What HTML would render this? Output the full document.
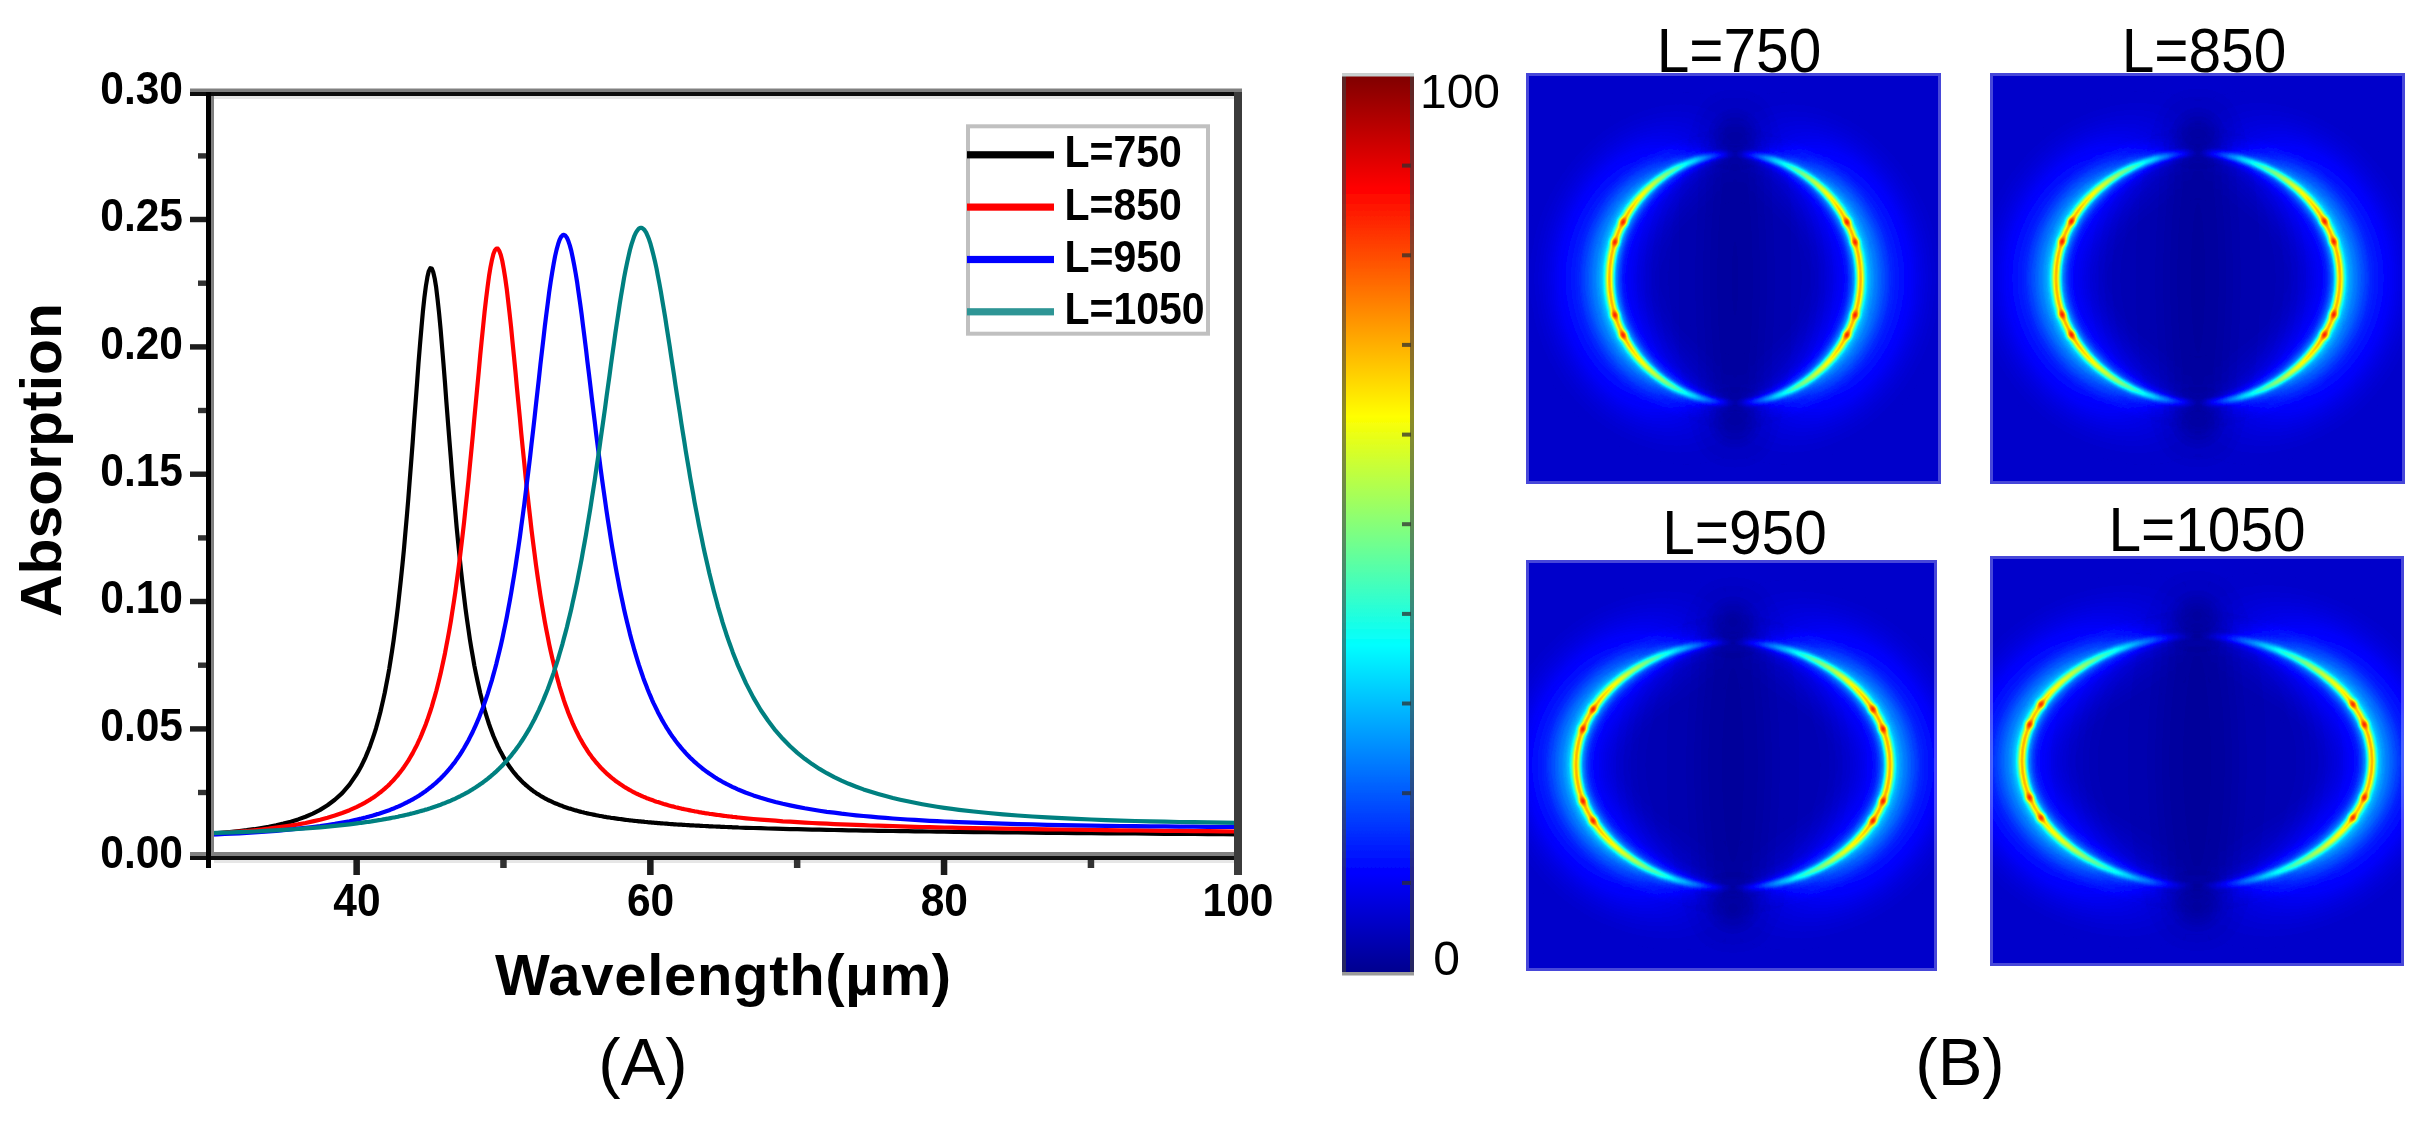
<!DOCTYPE html>
<html lang="en"><head><meta charset="utf-8"><title>Absorption spectra and field maps</title>
<style>html,body{margin:0;padding:0;background:#fff}body{width:2426px;height:1124px;overflow:hidden}svg{display:block}text{font-family:"Liberation Sans", Arial, Helvetica, sans-serif;fill:#000}.b{font-weight:bold}</style></head><body>
<svg width="2426" height="1124" viewBox="0 0 2426 1124">
<defs>
<filter id="jet" x="0" y="0" width="1" height="1" color-interpolation-filters="sRGB"><feComponentTransfer><feFuncR type="table" tableValues="0 0 0 0 0.5 1 1 1 0.5"/><feFuncG type="table" tableValues="0 0 0.5 1 1 1 0.5 0 0"/><feFuncB type="table" tableValues="0.5 1 1 1 0.5 0 0 0 0"/></feComponentTransfer></filter>
<filter id="b2" x="-50%" y="-50%" width="200%" height="200%" color-interpolation-filters="sRGB"><feGaussianBlur stdDeviation="2"/></filter>
<filter id="b4" x="-50%" y="-50%" width="200%" height="200%" color-interpolation-filters="sRGB"><feGaussianBlur stdDeviation="4"/></filter>
<filter id="b8" x="-50%" y="-50%" width="200%" height="200%" color-interpolation-filters="sRGB"><feGaussianBlur stdDeviation="8"/></filter>
<filter id="b14" x="-50%" y="-50%" width="200%" height="200%" color-interpolation-filters="sRGB"><feGaussianBlur stdDeviation="14"/></filter>
<filter id="b22" x="-50%" y="-50%" width="200%" height="200%" color-interpolation-filters="sRGB"><feGaussianBlur stdDeviation="22"/></filter>
<filter id="soft" x="-2%" y="-2%" width="104%" height="104%"><feGaussianBlur stdDeviation="0.7"/></filter>
<linearGradient id="cb" x1="0" y1="1" x2="0" y2="0"><stop offset="0" stop-color="#00008f"/><stop offset="0.11" stop-color="#0000ff"/><stop offset="0.365" stop-color="#00ffff"/><stop offset="0.62" stop-color="#ffff00"/><stop offset="0.875" stop-color="#ff0000"/><stop offset="1" stop-color="#800000"/></linearGradient>
</defs>
<g id="panelA" filter="url(#soft)">
<clipPath id="pc"><rect x="208" y="96" width="1030" height="760"/></clipPath>
<g clip-path="url(#pc)" fill="none" stroke-width="4.2" stroke-linejoin="round">
<path d="M210.0,833.7 L217.3,833.2 L224.7,832.5 L232.0,831.8 L239.4,831.0 L246.7,830.2 L254.1,829.2 L261.4,828.0 L268.7,826.8 L276.1,825.3 L283.4,823.6 L290.8,821.7 L298.1,819.4 L305.5,816.7 L312.8,813.6 L320.1,809.9 L327.5,805.3 L334.8,799.8 L342.2,793.1 L349.5,784.6 L356.9,773.8 L358.3,771.4 L359.8,768.7 L361.3,766.0 L362.7,763.1 L364.2,760.0 L365.7,756.8 L367.1,753.4 L368.6,749.8 L370.1,745.9 L371.5,741.9 L373.0,737.6 L374.5,733.1 L376.0,728.3 L377.4,723.2 L378.9,717.8 L380.4,712.0 L381.8,705.9 L383.3,699.4 L384.8,692.5 L386.2,685.1 L387.7,677.3 L389.2,669.0 L390.6,660.1 L392.1,650.6 L393.6,640.5 L395.0,629.7 L396.5,618.3 L398.0,606.1 L399.4,593.2 L400.9,579.5 L402.4,565.0 L403.9,549.7 L405.3,533.5 L406.8,516.6 L408.3,498.9 L409.7,480.5 L411.2,461.5 L412.7,442.0 L414.1,422.2 L415.6,402.3 L417.1,382.5 L418.5,363.2 L420.0,344.6 L421.5,327.3 L422.9,311.5 L424.4,297.6 L425.9,286.0 L427.4,277.1 L428.8,271.1 L430.3,268.2 L431.8,268.5 L433.2,272.0 L434.7,278.4 L436.2,287.7 L437.6,299.4 L439.1,313.4 L440.6,329.1 L442.0,346.2 L443.5,364.2 L445.0,383.0 L446.4,402.1 L447.9,421.3 L449.4,440.3 L450.9,458.9 L452.3,477.1 L453.8,494.6 L455.3,511.5 L456.7,527.7 L458.2,543.1 L459.7,557.7 L461.1,571.5 L462.6,584.6 L464.1,596.9 L465.5,608.6 L467.0,619.5 L468.5,629.8 L469.9,639.5 L471.4,648.6 L472.9,657.2 L474.3,665.3 L475.8,672.8 L477.3,680.0 L478.8,686.7 L480.2,693.0 L481.7,699.0 L483.2,704.6 L484.6,709.9 L486.1,714.8 L487.6,719.6 L489.0,724.0 L490.5,728.2 L492.0,732.2 L493.4,736.0 L494.9,739.5 L496.4,742.9 L497.8,746.1 L499.3,749.2 L500.8,752.1 L502.3,754.8 L503.7,757.4 L505.2,759.9 L506.7,762.3 L508.1,764.5 L509.6,766.7 L511.1,768.8 L512.5,770.7 L514.0,772.6 L515.5,774.4 L516.9,776.1 L518.4,777.7 L519.9,779.3 L521.3,780.8 L522.8,782.3 L524.3,783.6 L525.7,785.0 L527.2,786.2 L528.7,787.5 L530.2,788.6 L531.6,789.8 L533.1,790.9 L534.6,791.9 L536.0,792.9 L537.5,793.9 L539.0,794.8 L540.4,795.7 L541.9,796.6 L543.4,797.4 L544.8,798.3 L546.3,799.0 L547.8,799.8 L549.2,800.5 L550.7,801.2 L552.2,801.9 L553.7,802.6 L555.1,803.2 L556.6,803.8 L558.1,804.4 L559.5,805.0 L561.0,805.6 L562.5,806.1 L563.9,806.7 L565.4,807.2 L566.9,807.7 L568.3,808.2 L569.8,808.6 L571.3,809.1 L572.7,809.5 L574.2,810.0 L575.7,810.4 L577.2,810.8 L578.6,811.2 L580.1,811.6 L581.6,812.0 L583.0,812.3 L584.5,812.7 L586.0,813.0 L587.4,813.4 L588.9,813.7 L590.4,814.0 L591.8,814.3 L593.3,814.6 L594.8,814.9 L596.2,815.2 L597.7,815.5 L599.2,815.8 L600.6,816.0 L602.1,816.3 L603.6,816.6 L605.1,816.8 L606.5,817.1 L608.0,817.3 L609.5,817.5 L610.9,817.8 L612.4,818.0 L613.9,818.2 L615.3,818.4 L616.8,818.6 L618.3,818.8 L619.7,819.0 L621.2,819.2 L622.7,819.4 L624.1,819.6 L625.6,819.8 L627.1,820.0 L628.6,820.2 L630.0,820.3 L631.5,820.5 L633.0,820.7 L634.4,820.8 L635.9,821.0 L637.4,821.1 L638.8,821.3 L640.3,821.4 L641.8,821.6 L643.2,821.7 L644.7,821.9 L646.2,822.0 L647.6,822.2 L649.1,822.3 L650.6,822.4 L652.0,822.6 L653.5,822.7 L655.0,822.8 L656.5,822.9 L657.9,823.1 L659.4,823.2 L660.9,823.3 L662.3,823.4 L663.8,823.5 L665.3,823.6 L666.7,823.7 L668.2,823.8 L669.7,824.0 L671.1,824.1 L672.6,824.2 L674.1,824.3 L675.5,824.4 L677.0,824.5 L678.5,824.6 L680.0,824.6 L681.4,824.7 L682.9,824.8 L684.4,824.9 L685.8,825.0 L687.3,825.1 L688.8,825.2 L690.2,825.3 L691.7,825.4 L693.2,825.4 L694.6,825.5 L696.1,825.6 L697.6,825.7 L699.0,825.7 L700.5,825.8 L702.0,825.9 L703.4,826.0 L704.9,826.0 L706.4,826.1 L707.9,826.2 L709.3,826.3 L710.8,826.3 L712.3,826.4 L713.7,826.5 L715.2,826.5 L716.7,826.6 L718.1,826.7 L719.6,826.7 L721.1,826.8 L722.5,826.9 L724.0,826.9 L725.5,827.0 L726.9,827.0 L728.4,827.1 L729.9,827.2 L731.4,827.2 L732.8,827.3 L734.3,827.3 L735.8,827.4 L737.2,827.4 L738.7,827.5 L746.0,827.8 L753.4,828.0 L760.7,828.2 L768.1,828.5 L775.4,828.7 L782.8,828.9 L790.1,829.1 L797.4,829.2 L804.8,829.4 L812.1,829.6 L819.5,829.7 L826.8,829.9 L834.2,830.0 L841.5,830.2 L848.8,830.3 L856.2,830.4 L863.5,830.6 L870.9,830.7 L878.2,830.8 L885.6,830.9 L892.9,831.0 L900.2,831.1 L907.6,831.2 L914.9,831.3 L922.3,831.4 L929.6,831.5 L937.0,831.6 L944.3,831.7 L959.0,831.9 L973.7,832.1 L988.4,832.2 L1003.0,832.4 L1017.7,832.5 L1032.4,832.7 L1047.1,832.8 L1061.8,832.9 L1076.5,833.1 L1091.2,833.2 L1105.8,833.3 L1120.5,833.4 L1135.2,833.5 L1149.9,833.6 L1164.6,833.8 L1179.3,833.9 L1194.0,834.0 L1208.6,834.1 L1223.3,834.2 L1238.0,834.3" stroke="#000"/>
<path d="M210.0,833.7 L217.3,833.3 L224.7,832.8 L232.0,832.2 L239.4,831.6 L246.7,831.0 L254.1,830.3 L261.4,829.5 L268.7,828.7 L276.1,827.7 L283.4,826.7 L290.8,825.6 L298.1,824.4 L305.5,823.0 L312.8,821.4 L320.1,819.7 L327.5,817.7 L334.8,815.5 L342.2,813.0 L349.5,810.2 L356.9,806.9 L358.3,806.2 L359.8,805.4 L361.3,804.7 L362.7,803.9 L364.2,803.1 L365.7,802.2 L367.1,801.4 L368.6,800.5 L370.1,799.6 L371.5,798.6 L373.0,797.7 L374.5,796.7 L376.0,795.6 L377.4,794.6 L378.9,793.4 L380.4,792.3 L381.8,791.1 L383.3,789.9 L384.8,788.6 L386.2,787.3 L387.7,786.0 L389.2,784.6 L390.6,783.1 L392.1,781.6 L393.6,780.0 L395.0,778.4 L396.5,776.7 L398.0,775.0 L399.4,773.1 L400.9,771.2 L402.4,769.3 L403.9,767.2 L405.3,765.1 L406.8,762.9 L408.3,760.6 L409.7,758.2 L411.2,755.7 L412.7,753.1 L414.1,750.4 L415.6,747.6 L417.1,744.6 L418.5,741.5 L420.0,738.3 L421.5,734.9 L422.9,731.4 L424.4,727.7 L425.9,723.9 L427.4,719.8 L428.8,715.6 L430.3,711.2 L431.8,706.6 L433.2,701.7 L434.7,696.6 L436.2,691.3 L437.6,685.7 L439.1,679.8 L440.6,673.6 L442.0,667.1 L443.5,660.3 L445.0,653.2 L446.4,645.7 L447.9,637.8 L449.4,629.6 L450.9,620.9 L452.3,611.8 L453.8,602.2 L455.3,592.2 L456.7,581.8 L458.2,570.8 L459.7,559.3 L461.1,547.4 L462.6,534.9 L464.1,521.9 L465.5,508.4 L467.0,494.5 L468.5,480.1 L469.9,465.2 L471.4,450.0 L472.9,434.5 L474.3,418.8 L475.8,402.9 L477.3,387.0 L478.8,371.1 L480.2,355.5 L481.7,340.3 L483.2,325.6 L484.6,311.7 L486.1,298.7 L487.6,286.8 L489.0,276.2 L490.5,267.1 L492.0,259.7 L493.4,254.1 L494.9,250.3 L496.4,248.5 L497.8,248.7 L499.3,250.9 L500.8,255.0 L502.3,261.0 L503.7,268.7 L505.2,277.9 L506.7,288.6 L508.1,300.5 L509.6,313.5 L511.1,327.3 L512.5,341.8 L514.0,356.7 L515.5,372.0 L516.9,387.5 L518.4,403.0 L519.9,418.4 L521.3,433.7 L522.8,448.7 L524.3,463.4 L525.7,477.7 L527.2,491.6 L528.7,505.1 L530.2,518.0 L531.6,530.5 L533.1,542.5 L534.6,554.0 L536.0,565.1 L537.5,575.6 L539.0,585.7 L540.4,595.3 L541.9,604.5 L543.4,613.3 L544.8,621.6 L546.3,629.6 L547.8,637.2 L549.2,644.4 L550.7,651.3 L552.2,657.8 L553.7,664.1 L555.1,670.0 L556.6,675.7 L558.1,681.1 L559.5,686.3 L561.0,691.2 L562.5,695.9 L563.9,700.4 L565.4,704.7 L566.9,708.8 L568.3,712.7 L569.8,716.4 L571.3,720.0 L572.7,723.4 L574.2,726.7 L575.7,729.8 L577.2,732.8 L578.6,735.7 L580.1,738.5 L581.6,741.1 L583.0,743.7 L584.5,746.1 L586.0,748.4 L587.4,750.7 L588.9,752.9 L590.4,754.9 L591.8,756.9 L593.3,758.9 L594.8,760.7 L596.2,762.5 L597.7,764.2 L599.2,765.9 L600.6,767.5 L602.1,769.0 L603.6,770.5 L605.1,771.9 L606.5,773.3 L608.0,774.6 L609.5,775.9 L610.9,777.2 L612.4,778.4 L613.9,779.5 L615.3,780.7 L616.8,781.8 L618.3,782.8 L619.7,783.8 L621.2,784.8 L622.7,785.8 L624.1,786.7 L625.6,787.6 L627.1,788.5 L628.6,789.4 L630.0,790.2 L631.5,791.0 L633.0,791.8 L634.4,792.5 L635.9,793.3 L637.4,794.0 L638.8,794.7 L640.3,795.3 L641.8,796.0 L643.2,796.6 L644.7,797.2 L646.2,797.9 L647.6,798.4 L649.1,799.0 L650.6,799.6 L652.0,800.1 L653.5,800.6 L655.0,801.2 L656.5,801.7 L657.9,802.1 L659.4,802.6 L660.9,803.1 L662.3,803.5 L663.8,804.0 L665.3,804.4 L666.7,804.8 L668.2,805.3 L669.7,805.7 L671.1,806.1 L672.6,806.4 L674.1,806.8 L675.5,807.2 L677.0,807.5 L678.5,807.9 L680.0,808.2 L681.4,808.6 L682.9,808.9 L684.4,809.2 L685.8,809.5 L687.3,809.8 L688.8,810.1 L690.2,810.4 L691.7,810.7 L693.2,811.0 L694.6,811.3 L696.1,811.5 L697.6,811.8 L699.0,812.1 L700.5,812.3 L702.0,812.6 L703.4,812.8 L704.9,813.1 L706.4,813.3 L707.9,813.5 L709.3,813.8 L710.8,814.0 L712.3,814.2 L713.7,814.4 L715.2,814.6 L716.7,814.8 L718.1,815.0 L719.6,815.2 L721.1,815.4 L722.5,815.6 L724.0,815.8 L725.5,816.0 L726.9,816.2 L728.4,816.3 L729.9,816.5 L731.4,816.7 L732.8,816.9 L734.3,817.0 L735.8,817.2 L737.2,817.4 L738.7,817.5 L746.0,818.3 L753.4,819.0 L760.7,819.6 L768.1,820.2 L775.4,820.7 L782.8,821.3 L790.1,821.7 L797.4,822.2 L804.8,822.6 L812.1,823.0 L819.5,823.4 L826.8,823.7 L834.2,824.1 L841.5,824.4 L848.8,824.7 L856.2,824.9 L863.5,825.2 L870.9,825.5 L878.2,825.7 L885.6,825.9 L892.9,826.2 L900.2,826.4 L907.6,826.6 L914.9,826.8 L922.3,827.0 L929.6,827.1 L937.0,827.3 L944.3,827.5 L959.0,827.8 L973.7,828.1 L988.4,828.4 L1003.0,828.6 L1017.7,828.9 L1032.4,829.1 L1047.1,829.3 L1061.8,829.5 L1076.5,829.7 L1091.2,829.9 L1105.8,830.1 L1120.5,830.3 L1135.2,830.4 L1149.9,830.6 L1164.6,830.8 L1179.3,830.9 L1194.0,831.1 L1208.6,831.2 L1223.3,831.4 L1238.0,831.5" stroke="#ff0000"/>
<path d="M210.0,834.7 L217.3,834.4 L224.7,834.0 L232.0,833.7 L239.4,833.3 L246.7,832.9 L254.1,832.4 L261.4,831.9 L268.7,831.4 L276.1,830.8 L283.4,830.2 L290.8,829.5 L298.1,828.7 L305.5,827.9 L312.8,827.0 L320.1,826.1 L327.5,825.0 L334.8,823.9 L342.2,822.6 L349.5,821.2 L356.9,819.6 L358.3,819.2 L359.8,818.9 L361.3,818.6 L362.7,818.2 L364.2,817.8 L365.7,817.5 L367.1,817.1 L368.6,816.7 L370.1,816.3 L371.5,815.9 L373.0,815.5 L374.5,815.0 L376.0,814.6 L377.4,814.1 L378.9,813.7 L380.4,813.2 L381.8,812.7 L383.3,812.2 L384.8,811.7 L386.2,811.2 L387.7,810.7 L389.2,810.2 L390.6,809.6 L392.1,809.0 L393.6,808.5 L395.0,807.9 L396.5,807.2 L398.0,806.6 L399.4,806.0 L400.9,805.3 L402.4,804.6 L403.9,803.9 L405.3,803.2 L406.8,802.5 L408.3,801.7 L409.7,801.0 L411.2,800.2 L412.7,799.4 L414.1,798.5 L415.6,797.7 L417.1,796.8 L418.5,795.9 L420.0,794.9 L421.5,794.0 L422.9,793.0 L424.4,791.9 L425.9,790.9 L427.4,789.8 L428.8,788.7 L430.3,787.5 L431.8,786.4 L433.2,785.1 L434.7,783.9 L436.2,782.6 L437.6,781.3 L439.1,779.9 L440.6,778.5 L442.0,777.0 L443.5,775.5 L445.0,773.9 L446.4,772.3 L447.9,770.6 L449.4,768.9 L450.9,767.1 L452.3,765.3 L453.8,763.4 L455.3,761.4 L456.7,759.4 L458.2,757.3 L459.7,755.1 L461.1,752.8 L462.6,750.5 L464.1,748.0 L465.5,745.5 L467.0,742.9 L468.5,740.2 L469.9,737.4 L471.4,734.5 L472.9,731.5 L474.3,728.4 L475.8,725.1 L477.3,721.7 L478.8,718.2 L480.2,714.6 L481.7,710.8 L483.2,706.9 L484.6,702.8 L486.1,698.5 L487.6,694.1 L489.0,689.5 L490.5,684.7 L492.0,679.8 L493.4,674.6 L494.9,669.2 L496.4,663.6 L497.8,657.8 L499.3,651.7 L500.8,645.4 L502.3,638.8 L503.7,632.0 L505.2,624.9 L506.7,617.5 L508.1,609.8 L509.6,601.8 L511.1,593.5 L512.5,584.9 L514.0,576.0 L515.5,566.7 L516.9,557.1 L518.4,547.2 L519.9,536.9 L521.3,526.3 L522.8,515.3 L524.3,504.0 L525.7,492.5 L527.2,480.6 L528.7,468.4 L530.2,455.9 L531.6,443.2 L533.1,430.4 L534.6,417.3 L536.0,404.2 L537.5,391.0 L539.0,377.8 L540.4,364.6 L541.9,351.7 L543.4,338.9 L544.8,326.5 L546.3,314.4 L547.8,302.9 L549.2,291.9 L550.7,281.7 L552.2,272.3 L553.7,263.7 L555.1,256.1 L556.6,249.6 L558.1,244.2 L559.5,240.0 L561.0,237.0 L562.5,235.3 L563.9,234.8 L565.4,235.6 L566.9,237.7 L568.3,240.9 L569.8,245.4 L571.3,250.9 L572.7,257.5 L574.2,265.1 L575.7,273.5 L577.2,282.7 L578.6,292.7 L580.1,303.1 L581.6,314.1 L583.0,325.6 L584.5,337.3 L586.0,349.3 L587.4,361.4 L588.9,373.6 L590.4,385.9 L591.8,398.1 L593.3,410.3 L594.8,422.3 L596.2,434.2 L597.7,445.9 L599.2,457.4 L600.6,468.6 L602.1,479.6 L603.6,490.3 L605.1,500.7 L606.5,510.8 L608.0,520.6 L609.5,530.1 L610.9,539.3 L612.4,548.3 L613.9,556.9 L615.3,565.2 L616.8,573.3 L618.3,581.1 L619.7,588.6 L621.2,595.8 L622.7,602.8 L624.1,609.5 L625.6,616.0 L627.1,622.2 L628.6,628.3 L630.0,634.1 L631.5,639.7 L633.0,645.0 L634.4,650.2 L635.9,655.2 L637.4,660.1 L638.8,664.7 L640.3,669.2 L641.8,673.5 L643.2,677.7 L644.7,681.7 L646.2,685.6 L647.6,689.3 L649.1,693.0 L650.6,696.4 L652.0,699.8 L653.5,703.1 L655.0,706.2 L656.5,709.2 L657.9,712.2 L659.4,715.0 L660.9,717.8 L662.3,720.4 L663.8,723.0 L665.3,725.5 L666.7,727.9 L668.2,730.2 L669.7,732.5 L671.1,734.6 L672.6,736.8 L674.1,738.8 L675.5,740.8 L677.0,742.7 L678.5,744.6 L680.0,746.4 L681.4,748.2 L682.9,749.9 L684.4,751.5 L685.8,753.1 L687.3,754.7 L688.8,756.2 L690.2,757.7 L691.7,759.1 L693.2,760.5 L694.6,761.9 L696.1,763.2 L697.6,764.5 L699.0,765.7 L700.5,766.9 L702.0,768.1 L703.4,769.3 L704.9,770.4 L706.4,771.5 L707.9,772.5 L709.3,773.6 L710.8,774.6 L712.3,775.6 L713.7,776.5 L715.2,777.5 L716.7,778.4 L718.1,779.3 L719.6,780.1 L721.1,781.0 L722.5,781.8 L724.0,782.6 L725.5,783.4 L726.9,784.2 L728.4,784.9 L729.9,785.6 L731.4,786.4 L732.8,787.1 L734.3,787.7 L735.8,788.4 L737.2,789.1 L738.7,789.7 L746.0,792.7 L753.4,795.4 L760.7,797.8 L768.1,800.0 L775.4,802.0 L782.8,803.8 L790.1,805.4 L797.4,806.9 L804.8,808.3 L812.1,809.5 L819.5,810.7 L826.8,811.8 L834.2,812.7 L841.5,813.7 L848.8,814.5 L856.2,815.3 L863.5,816.0 L870.9,816.7 L878.2,817.3 L885.6,817.9 L892.9,818.5 L900.2,819.0 L907.6,819.5 L914.9,819.9 L922.3,820.4 L929.6,820.8 L937.0,821.1 L944.3,821.5 L959.0,822.1 L973.7,822.7 L988.4,823.2 L1003.0,823.7 L1017.7,824.1 L1032.4,824.4 L1047.1,824.8 L1061.8,825.1 L1076.5,825.3 L1091.2,825.6 L1105.8,825.8 L1120.5,826.0 L1135.2,826.1 L1149.9,826.3 L1164.6,826.4 L1179.3,826.6 L1194.0,826.7 L1208.6,826.8 L1223.3,826.8 L1238.0,826.9" stroke="#0000ff"/>
<path d="M210.0,833.2 L217.3,832.9 L224.7,832.7 L232.0,832.4 L239.4,832.1 L246.7,831.8 L254.1,831.5 L261.4,831.1 L268.7,830.7 L276.1,830.3 L283.4,829.9 L290.8,829.5 L298.1,829.0 L305.5,828.4 L312.8,827.9 L320.1,827.3 L327.5,826.6 L334.8,825.9 L342.2,825.1 L349.5,824.3 L356.9,823.4 L358.3,823.2 L359.8,823.0 L361.3,822.8 L362.7,822.6 L364.2,822.4 L365.7,822.2 L367.1,822.0 L368.6,821.8 L370.1,821.6 L371.5,821.4 L373.0,821.1 L374.5,820.9 L376.0,820.7 L377.4,820.4 L378.9,820.2 L380.4,820.0 L381.8,819.7 L383.3,819.4 L384.8,819.2 L386.2,818.9 L387.7,818.7 L389.2,818.4 L390.6,818.1 L392.1,817.8 L393.6,817.5 L395.0,817.3 L396.5,817.0 L398.0,816.7 L399.4,816.3 L400.9,816.0 L402.4,815.7 L403.9,815.4 L405.3,815.0 L406.8,814.7 L408.3,814.4 L409.7,814.0 L411.2,813.6 L412.7,813.3 L414.1,812.9 L415.6,812.5 L417.1,812.1 L418.5,811.7 L420.0,811.3 L421.5,810.9 L422.9,810.5 L424.4,810.1 L425.9,809.6 L427.4,809.2 L428.8,808.7 L430.3,808.3 L431.8,807.8 L433.2,807.3 L434.7,806.8 L436.2,806.3 L437.6,805.8 L439.1,805.2 L440.6,804.7 L442.0,804.1 L443.5,803.6 L445.0,803.0 L446.4,802.4 L447.9,801.8 L449.4,801.2 L450.9,800.6 L452.3,799.9 L453.8,799.3 L455.3,798.6 L456.7,797.9 L458.2,797.2 L459.7,796.5 L461.1,795.7 L462.6,795.0 L464.1,794.2 L465.5,793.4 L467.0,792.6 L468.5,791.8 L469.9,790.9 L471.4,790.0 L472.9,789.1 L474.3,788.2 L475.8,787.3 L477.3,786.3 L478.8,785.3 L480.2,784.3 L481.7,783.3 L483.2,782.2 L484.6,781.1 L486.1,780.0 L487.6,778.9 L489.0,777.7 L490.5,776.5 L492.0,775.2 L493.4,774.0 L494.9,772.6 L496.4,771.3 L497.8,769.9 L499.3,768.5 L500.8,767.0 L502.3,765.6 L503.7,764.0 L505.2,762.4 L506.7,760.8 L508.1,759.1 L509.6,757.4 L511.1,755.6 L512.5,753.8 L514.0,751.9 L515.5,750.0 L516.9,748.0 L518.4,746.0 L519.9,743.9 L521.3,741.7 L522.8,739.5 L524.3,737.2 L525.7,734.8 L527.2,732.4 L528.7,729.9 L530.2,727.3 L531.6,724.6 L533.1,721.8 L534.6,719.0 L536.0,716.0 L537.5,713.0 L539.0,709.9 L540.4,706.7 L541.9,703.4 L543.4,699.9 L544.8,696.4 L546.3,692.7 L547.8,689.0 L549.2,685.1 L550.7,681.0 L552.2,676.9 L553.7,672.6 L555.1,668.2 L556.6,663.6 L558.1,658.9 L559.5,654.0 L561.0,649.0 L562.5,643.8 L563.9,638.4 L565.4,632.9 L566.9,627.2 L568.3,621.3 L569.8,615.2 L571.3,608.9 L572.7,602.4 L574.2,595.7 L575.7,588.8 L577.2,581.7 L578.6,574.4 L580.1,566.9 L581.6,559.2 L583.0,551.2 L584.5,543.0 L586.0,534.6 L587.4,526.0 L588.9,517.2 L590.4,508.1 L591.8,498.9 L593.3,489.4 L594.8,479.7 L596.2,469.9 L597.7,459.9 L599.2,449.7 L600.6,439.4 L602.1,428.9 L603.6,418.4 L605.1,407.7 L606.5,397.0 L608.0,386.3 L609.5,375.6 L610.9,364.9 L612.4,354.3 L613.9,343.9 L615.3,333.6 L616.8,323.5 L618.3,313.6 L619.7,304.1 L621.2,294.9 L622.7,286.1 L624.1,277.7 L625.6,269.9 L627.1,262.6 L628.6,255.9 L630.0,249.8 L631.5,244.4 L633.0,239.8 L634.4,235.8 L635.9,232.6 L637.4,230.3 L638.8,228.7 L640.3,227.9 L641.8,227.9 L643.2,228.7 L644.7,230.3 L646.2,232.7 L647.6,235.8 L649.1,239.6 L650.6,244.2 L652.0,249.4 L653.5,255.2 L655.0,261.5 L656.5,268.4 L657.9,275.8 L659.4,283.6 L660.9,291.8 L662.3,300.3 L663.8,309.1 L665.3,318.2 L666.7,327.4 L668.2,336.8 L669.7,346.4 L671.1,356.0 L672.6,365.7 L674.1,375.5 L675.5,385.2 L677.0,394.9 L678.5,404.5 L680.0,414.0 L681.4,423.5 L682.9,432.9 L684.4,442.1 L685.8,451.2 L687.3,460.1 L688.8,468.9 L690.2,477.5 L691.7,485.9 L693.2,494.2 L694.6,502.3 L696.1,510.2 L697.6,517.9 L699.0,525.4 L700.5,532.7 L702.0,539.9 L703.4,546.9 L704.9,553.7 L706.4,560.3 L707.9,566.7 L709.3,573.0 L710.8,579.1 L712.3,585.0 L713.7,590.7 L715.2,596.3 L716.7,601.8 L718.1,607.1 L719.6,612.2 L721.1,617.2 L722.5,622.1 L724.0,626.8 L725.5,631.4 L726.9,635.8 L728.4,640.1 L729.9,644.3 L731.4,648.4 L732.8,652.4 L734.3,656.2 L735.8,660.0 L737.2,663.6 L738.7,667.2 L746.0,683.4 L753.4,697.6 L760.7,710.0 L768.1,720.8 L775.4,730.4 L782.8,738.8 L790.1,746.3 L797.4,752.9 L804.8,758.8 L812.1,764.1 L819.5,768.9 L826.8,773.2 L834.2,777.1 L841.5,780.6 L848.8,783.8 L856.2,786.7 L863.5,789.4 L870.9,791.8 L878.2,794.0 L885.6,796.1 L892.9,798.0 L900.2,799.7 L907.6,801.3 L914.9,802.8 L922.3,804.2 L929.6,805.5 L937.0,806.7 L944.3,807.8 L959.0,809.8 L973.7,811.5 L988.4,813.0 L1003.0,814.3 L1017.7,815.5 L1032.4,816.5 L1047.1,817.4 L1061.8,818.2 L1076.5,818.9 L1091.2,819.5 L1105.8,820.1 L1120.5,820.6 L1135.2,821.0 L1149.9,821.4 L1164.6,821.7 L1179.3,822.0 L1194.0,822.2 L1208.6,822.4 L1223.3,822.6 L1238.0,822.8" stroke="#008080"/>
</g>
<g>
<rect x="190" y="88.5" width="1052" height="3.5" fill="#808080"/><rect x="190" y="92" width="1052" height="4" fill="#0a0a0a"/><rect x="214" y="96" width="1020" height="3" fill="#e6e6e6"/>
<rect x="190" y="852" width="1048" height="4" fill="#808080"/><rect x="190" y="856" width="1048" height="4" fill="#0a0a0a"/><rect x="214" y="860" width="1020" height="3" fill="#e6e6e6"/>
<rect x="206" y="92" width="5" height="776" fill="#000"/><rect x="211" y="96" width="3" height="756" fill="#808080"/>
<rect x="1234" y="92" width="8" height="783" fill="#3a3a3a"/>
<rect x="198" y="153.2" width="8" height="5.4" fill="#333"/>
<text class="b" transform="translate(183,104.0) scale(1,1.07)" font-size="42.5" text-anchor="end">0.30</text>
<rect x="190" y="216.8" width="16" height="5.4" fill="#1a1a1a"/>
<rect x="198" y="280.5" width="8" height="5.4" fill="#333"/>
<text class="b" transform="translate(183,231.3) scale(1,1.07)" font-size="42.5" text-anchor="end">0.25</text>
<rect x="190" y="344.2" width="16" height="5.4" fill="#1a1a1a"/>
<rect x="198" y="407.8" width="8" height="5.4" fill="#333"/>
<text class="b" transform="translate(183,358.7) scale(1,1.07)" font-size="42.5" text-anchor="end">0.20</text>
<rect x="190" y="471.5" width="16" height="5.4" fill="#1a1a1a"/>
<rect x="198" y="535.2" width="8" height="5.4" fill="#333"/>
<text class="b" transform="translate(183,486.0) scale(1,1.07)" font-size="42.5" text-anchor="end">0.15</text>
<rect x="190" y="598.8" width="16" height="5.4" fill="#1a1a1a"/>
<rect x="198" y="662.5" width="8" height="5.4" fill="#333"/>
<text class="b" transform="translate(183,613.3) scale(1,1.07)" font-size="42.5" text-anchor="end">0.10</text>
<rect x="190" y="726.2" width="16" height="5.4" fill="#1a1a1a"/>
<rect x="198" y="789.8" width="8" height="5.4" fill="#333"/>
<text class="b" transform="translate(183,740.7) scale(1,1.07)" font-size="42.5" text-anchor="end">0.05</text>
<text class="b" transform="translate(183,868.0) scale(1,1.07)" font-size="42.5" text-anchor="end">0.00</text>
<rect x="353.4" y="860" width="6.5" height="15" fill="#1a1a1a"/>
<text class="b" transform="translate(356.9,915.5) scale(1,1.07)" font-size="42.5" text-anchor="middle">40</text>
<rect x="500.2" y="860" width="6.5" height="8" fill="#333"/>
<rect x="647.1" y="860" width="6.5" height="15" fill="#1a1a1a"/>
<text class="b" transform="translate(650.6,915.5) scale(1,1.07)" font-size="42.5" text-anchor="middle">60</text>
<rect x="793.9" y="860" width="6.5" height="8" fill="#333"/>
<rect x="940.8" y="860" width="6.5" height="15" fill="#1a1a1a"/>
<text class="b" transform="translate(944.3,915.5) scale(1,1.07)" font-size="42.5" text-anchor="middle">80</text>
<rect x="1087.7" y="860" width="6.5" height="8" fill="#333"/>
<text class="b" transform="translate(1238.0,915.5) scale(1,1.07)" font-size="42.5" text-anchor="middle">100</text>
</g>
<rect x="968" y="126.3" width="240" height="207.4" fill="#fff" stroke="#c0c0c0" stroke-width="4"/>
<rect x="967" y="151.2" width="87" height="7.2" fill="#000"/>
<text class="b" transform="translate(1064.5,167.4) scale(1,1.1)" font-size="41">L=750</text>
<rect x="967" y="203.5" width="87" height="7.2" fill="#ff0000"/>
<text class="b" transform="translate(1064.5,219.7) scale(1,1.1)" font-size="41">L=850</text>
<rect x="967" y="255.9" width="87" height="7.2" fill="#0000ff"/>
<text class="b" transform="translate(1064.5,272.1) scale(1,1.1)" font-size="41">L=950</text>
<rect x="967" y="308.2" width="87" height="7.2" fill="#2e9595"/>
<text class="b" transform="translate(1064.5,324.4) scale(1,1.1)" font-size="41">L=1050</text>
<text class="b" x="723" y="994.5" font-size="58" text-anchor="middle" textLength="456" lengthAdjust="spacing">Wavelength(µm)</text>
<text class="b" transform="translate(61,460) rotate(-90)" font-size="58" text-anchor="middle" textLength="314" lengthAdjust="spacingAndGlyphs">Absorption</text>
<text x="643" y="1084.5" font-size="67" text-anchor="middle">(A)</text>
</g>
<g id="panelB" filter="url(#soft)">
<rect x="1342" y="73.5" width="72" height="902" fill="#9a9a9a"/>
<rect x="1342" y="76" width="72" height="896" fill="url(#cb)"/>
<rect x="1342" y="76" width="4" height="896" fill="#404040" fill-opacity="0.6"/><rect x="1410" y="76" width="4" height="896" fill="#404040" fill-opacity="0.6"/>
<rect x="1342" y="73.5" width="72" height="3" fill="#c8d0d0"/>
<rect x="1402" y="880.9" width="9" height="4" fill="#303030" fill-opacity="0.75"/>
<rect x="1402" y="791.2" width="9" height="4" fill="#303030" fill-opacity="0.75"/>
<rect x="1402" y="701.5" width="9" height="4" fill="#303030" fill-opacity="0.75"/>
<rect x="1402" y="611.9" width="9" height="4" fill="#303030" fill-opacity="0.75"/>
<rect x="1402" y="522.2" width="9" height="4" fill="#303030" fill-opacity="0.75"/>
<rect x="1402" y="432.6" width="9" height="4" fill="#303030" fill-opacity="0.75"/>
<rect x="1402" y="342.9" width="9" height="4" fill="#303030" fill-opacity="0.75"/>
<rect x="1402" y="253.3" width="9" height="4" fill="#303030" fill-opacity="0.75"/>
<rect x="1402" y="163.6" width="9" height="4" fill="#303030" fill-opacity="0.75"/>
<text x="1460" y="107.5" font-size="48" text-anchor="middle">100</text>
<text x="1446.5" y="975" font-size="48" text-anchor="middle">0</text>
<text x="1739" y="72" font-size="62" text-anchor="middle" transform="translate(1739,0) scale(0.945,1) translate(-1739,0)">L=750</text>
<clipPath id="hc0"><rect x="1526" y="73" width="415" height="411"/></clipPath>
<linearGradient id="ag0" gradientUnits="userSpaceOnUse" x1="1609.4" y1="0" x2="1860.6" y2="0"><stop offset="0.000" stop-color="#fff" stop-opacity="0.7"/><stop offset="0.040" stop-color="#fff" stop-opacity="0.7"/><stop offset="0.070" stop-color="#fff" stop-opacity="0.688"/><stop offset="0.100" stop-color="#fff" stop-opacity="0.64"/><stop offset="0.150" stop-color="#fff" stop-opacity="0.56"/><stop offset="0.200" stop-color="#fff" stop-opacity="0.48"/><stop offset="0.250" stop-color="#fff" stop-opacity="0.4"/><stop offset="0.300" stop-color="#fff" stop-opacity="0.32"/><stop offset="0.350" stop-color="#fff" stop-opacity="0.24"/><stop offset="0.400" stop-color="#fff" stop-opacity="0.16"/><stop offset="0.450" stop-color="#fff" stop-opacity="0.08"/><stop offset="0.500" stop-color="#fff" stop-opacity="0.0"/><stop offset="0.550" stop-color="#fff" stop-opacity="0.08"/><stop offset="0.600" stop-color="#fff" stop-opacity="0.16"/><stop offset="0.650" stop-color="#fff" stop-opacity="0.24"/><stop offset="0.700" stop-color="#fff" stop-opacity="0.32"/><stop offset="0.750" stop-color="#fff" stop-opacity="0.4"/><stop offset="0.800" stop-color="#fff" stop-opacity="0.48"/><stop offset="0.850" stop-color="#fff" stop-opacity="0.56"/><stop offset="0.900" stop-color="#fff" stop-opacity="0.64"/><stop offset="0.930" stop-color="#fff" stop-opacity="0.688"/><stop offset="0.960" stop-color="#fff" stop-opacity="0.7"/><stop offset="1.000" stop-color="#fff" stop-opacity="0.7"/></linearGradient>
<linearGradient id="hg0" gradientUnits="userSpaceOnUse" x1="1569.4" y1="0" x2="1900.6" y2="0"><stop offset="0.000" stop-color="#fff" stop-opacity="1"/><stop offset="0.175" stop-color="#fff" stop-opacity="0.9"/><stop offset="0.300" stop-color="#fff" stop-opacity="0.5"/><stop offset="0.425" stop-color="#fff" stop-opacity="0.12"/><stop offset="0.500" stop-color="#fff" stop-opacity="0"/><stop offset="0.575" stop-color="#fff" stop-opacity="0.12"/><stop offset="0.700" stop-color="#fff" stop-opacity="0.5"/><stop offset="0.825" stop-color="#fff" stop-opacity="0.9"/><stop offset="1.000" stop-color="#fff" stop-opacity="1"/></linearGradient>
<g clip-path="url(#hc0)"><g filter="url(#jet)">
<rect x="1526" y="73" width="415" height="411" fill="#131313"/>
<ellipse cx="1735" cy="278.5" rx="141.6" ry="130.5" filter="url(#b22)" fill="none" stroke="url(#hg0)" stroke-width="60" stroke-opacity="0.13"/>
<ellipse cx="1735" cy="278.5" rx="132.6" ry="127.5" filter="url(#b8)" fill="none" stroke="url(#hg0)" stroke-width="24" stroke-opacity="0.15"/>
<ellipse cx="1735" cy="278.5" rx="83" ry="122" fill="#000" fill-opacity="0.30" filter="url(#b14)"/>
<ellipse cx="1735" cy="278.5" rx="28" ry="162" fill="#000" fill-opacity="0.40" filter="url(#b14)"/>
<g fill="#000" fill-opacity="0.32" filter="url(#b8)"><circle cx="1735" cy="134.0" r="20"/><circle cx="1735" cy="423.0" r="20"/></g>
<ellipse cx="1735" cy="278.5" rx="125.6" ry="124.5" filter="url(#b4)" fill="none" stroke="url(#ag0)" stroke-width="11" stroke-opacity="0.30"/>
<ellipse cx="1735" cy="278.5" rx="125.6" ry="124.5" filter="url(#b2)" fill="none" stroke="url(#ag0)" stroke-width="5"/>
<g fill="#fff" fill-opacity="0.7" filter="url(#b2)"><circle cx="1623.1" cy="222.0" r="3.2"/><circle cx="1614.9" cy="242.1" r="3.2"/><circle cx="1614.9" cy="314.9" r="3.2"/><circle cx="1623.1" cy="335.0" r="3.2"/><circle cx="1846.9" cy="222.0" r="3.2"/><circle cx="1855.1" cy="242.1" r="3.2"/><circle cx="1855.1" cy="314.9" r="3.2"/><circle cx="1846.9" cy="335.0" r="3.2"/></g>
</g>
<rect x="1527.5" y="74.5" width="412" height="408" fill="none" stroke="#fff" stroke-opacity="0.28" stroke-width="3"/>
</g>
<text x="2204" y="72" font-size="62" text-anchor="middle" transform="translate(2204,0) scale(0.945,1) translate(-2204,0)">L=850</text>
<clipPath id="hc1"><rect x="1990" y="73" width="415" height="411"/></clipPath>
<linearGradient id="ag1" gradientUnits="userSpaceOnUse" x1="2056" y1="0" x2="2340" y2="0"><stop offset="0.000" stop-color="#fff" stop-opacity="0.7"/><stop offset="0.040" stop-color="#fff" stop-opacity="0.7"/><stop offset="0.070" stop-color="#fff" stop-opacity="0.688"/><stop offset="0.100" stop-color="#fff" stop-opacity="0.64"/><stop offset="0.150" stop-color="#fff" stop-opacity="0.56"/><stop offset="0.200" stop-color="#fff" stop-opacity="0.48"/><stop offset="0.250" stop-color="#fff" stop-opacity="0.4"/><stop offset="0.300" stop-color="#fff" stop-opacity="0.32"/><stop offset="0.350" stop-color="#fff" stop-opacity="0.24"/><stop offset="0.400" stop-color="#fff" stop-opacity="0.16"/><stop offset="0.450" stop-color="#fff" stop-opacity="0.08"/><stop offset="0.500" stop-color="#fff" stop-opacity="0.0"/><stop offset="0.550" stop-color="#fff" stop-opacity="0.08"/><stop offset="0.600" stop-color="#fff" stop-opacity="0.16"/><stop offset="0.650" stop-color="#fff" stop-opacity="0.24"/><stop offset="0.700" stop-color="#fff" stop-opacity="0.32"/><stop offset="0.750" stop-color="#fff" stop-opacity="0.4"/><stop offset="0.800" stop-color="#fff" stop-opacity="0.48"/><stop offset="0.850" stop-color="#fff" stop-opacity="0.56"/><stop offset="0.900" stop-color="#fff" stop-opacity="0.64"/><stop offset="0.930" stop-color="#fff" stop-opacity="0.688"/><stop offset="0.960" stop-color="#fff" stop-opacity="0.7"/><stop offset="1.000" stop-color="#fff" stop-opacity="0.7"/></linearGradient>
<linearGradient id="hg1" gradientUnits="userSpaceOnUse" x1="2016" y1="0" x2="2380" y2="0"><stop offset="0.000" stop-color="#fff" stop-opacity="1"/><stop offset="0.175" stop-color="#fff" stop-opacity="0.9"/><stop offset="0.300" stop-color="#fff" stop-opacity="0.5"/><stop offset="0.425" stop-color="#fff" stop-opacity="0.12"/><stop offset="0.500" stop-color="#fff" stop-opacity="0"/><stop offset="0.575" stop-color="#fff" stop-opacity="0.12"/><stop offset="0.700" stop-color="#fff" stop-opacity="0.5"/><stop offset="0.825" stop-color="#fff" stop-opacity="0.9"/><stop offset="1.000" stop-color="#fff" stop-opacity="1"/></linearGradient>
<g clip-path="url(#hc1)"><g filter="url(#jet)">
<rect x="1990" y="73" width="415" height="411" fill="#131313"/>
<ellipse cx="2198" cy="278" rx="158" ry="131" filter="url(#b22)" fill="none" stroke="url(#hg1)" stroke-width="60" stroke-opacity="0.13"/>
<ellipse cx="2198" cy="278" rx="149" ry="128" filter="url(#b8)" fill="none" stroke="url(#hg1)" stroke-width="24" stroke-opacity="0.15"/>
<ellipse cx="2198" cy="278" rx="94" ry="122" fill="#000" fill-opacity="0.30" filter="url(#b14)"/>
<ellipse cx="2198" cy="278" rx="31" ry="162" fill="#000" fill-opacity="0.40" filter="url(#b14)"/>
<g fill="#000" fill-opacity="0.32" filter="url(#b8)"><circle cx="2198" cy="133" r="20"/><circle cx="2198" cy="423" r="20"/></g>
<ellipse cx="2198" cy="278" rx="142" ry="125" filter="url(#b4)" fill="none" stroke="url(#ag1)" stroke-width="11" stroke-opacity="0.30"/>
<ellipse cx="2198" cy="278" rx="142" ry="125" filter="url(#b2)" fill="none" stroke="url(#ag1)" stroke-width="5"/>
<g fill="#fff" fill-opacity="0.7" filter="url(#b2)"><circle cx="2071.5" cy="221.3" r="3.2"/><circle cx="2062.2" cy="241.5" r="3.2"/><circle cx="2062.2" cy="314.5" r="3.2"/><circle cx="2071.5" cy="334.7" r="3.2"/><circle cx="2324.5" cy="221.3" r="3.2"/><circle cx="2333.8" cy="241.5" r="3.2"/><circle cx="2333.8" cy="314.5" r="3.2"/><circle cx="2324.5" cy="334.7" r="3.2"/></g>
</g>
<rect x="1991.5" y="74.5" width="412" height="408" fill="none" stroke="#fff" stroke-opacity="0.28" stroke-width="3"/>
</g>
<text x="1744.5" y="554" font-size="62" text-anchor="middle" transform="translate(1744.5,0) scale(0.945,1) translate(-1744.5,0)">L=950</text>
<clipPath id="hc2"><rect x="1526" y="560" width="411" height="411"/></clipPath>
<linearGradient id="ag2" gradientUnits="userSpaceOnUse" x1="1576" y1="0" x2="1890" y2="0"><stop offset="0.000" stop-color="#fff" stop-opacity="0.7"/><stop offset="0.040" stop-color="#fff" stop-opacity="0.7"/><stop offset="0.070" stop-color="#fff" stop-opacity="0.669"/><stop offset="0.100" stop-color="#fff" stop-opacity="0.618"/><stop offset="0.150" stop-color="#fff" stop-opacity="0.534"/><stop offset="0.200" stop-color="#fff" stop-opacity="0.45"/><stop offset="0.250" stop-color="#fff" stop-opacity="0.369"/><stop offset="0.300" stop-color="#fff" stop-opacity="0.288"/><stop offset="0.350" stop-color="#fff" stop-opacity="0.21"/><stop offset="0.400" stop-color="#fff" stop-opacity="0.135"/><stop offset="0.450" stop-color="#fff" stop-opacity="0.063"/><stop offset="0.500" stop-color="#fff" stop-opacity="0.0"/><stop offset="0.550" stop-color="#fff" stop-opacity="0.063"/><stop offset="0.600" stop-color="#fff" stop-opacity="0.135"/><stop offset="0.650" stop-color="#fff" stop-opacity="0.21"/><stop offset="0.700" stop-color="#fff" stop-opacity="0.288"/><stop offset="0.750" stop-color="#fff" stop-opacity="0.369"/><stop offset="0.800" stop-color="#fff" stop-opacity="0.45"/><stop offset="0.850" stop-color="#fff" stop-opacity="0.534"/><stop offset="0.900" stop-color="#fff" stop-opacity="0.618"/><stop offset="0.930" stop-color="#fff" stop-opacity="0.669"/><stop offset="0.960" stop-color="#fff" stop-opacity="0.7"/><stop offset="1.000" stop-color="#fff" stop-opacity="0.7"/></linearGradient>
<linearGradient id="hg2" gradientUnits="userSpaceOnUse" x1="1536" y1="0" x2="1930" y2="0"><stop offset="0.000" stop-color="#fff" stop-opacity="1"/><stop offset="0.175" stop-color="#fff" stop-opacity="0.9"/><stop offset="0.300" stop-color="#fff" stop-opacity="0.5"/><stop offset="0.425" stop-color="#fff" stop-opacity="0.12"/><stop offset="0.500" stop-color="#fff" stop-opacity="0"/><stop offset="0.575" stop-color="#fff" stop-opacity="0.12"/><stop offset="0.700" stop-color="#fff" stop-opacity="0.5"/><stop offset="0.825" stop-color="#fff" stop-opacity="0.9"/><stop offset="1.000" stop-color="#fff" stop-opacity="1"/></linearGradient>
<g clip-path="url(#hc2)"><g filter="url(#jet)">
<rect x="1526" y="560" width="411" height="411" fill="#131313"/>
<ellipse cx="1733" cy="765" rx="173" ry="129" filter="url(#b22)" fill="none" stroke="url(#hg2)" stroke-width="60" stroke-opacity="0.13"/>
<ellipse cx="1733" cy="765" rx="164" ry="126" filter="url(#b8)" fill="none" stroke="url(#hg2)" stroke-width="24" stroke-opacity="0.15"/>
<ellipse cx="1733" cy="765" rx="104" ry="121" fill="#000" fill-opacity="0.30" filter="url(#b14)"/>
<ellipse cx="1733" cy="765" rx="35" ry="160" fill="#000" fill-opacity="0.40" filter="url(#b14)"/>
<g fill="#000" fill-opacity="0.32" filter="url(#b8)"><circle cx="1733" cy="622" r="20"/><circle cx="1733" cy="908" r="20"/></g>
<ellipse cx="1733" cy="765" rx="157" ry="123" filter="url(#b4)" fill="none" stroke="url(#ag2)" stroke-width="11" stroke-opacity="0.30"/>
<ellipse cx="1733" cy="765" rx="157" ry="123" filter="url(#b2)" fill="none" stroke="url(#ag2)" stroke-width="5"/>
<g fill="#fff" fill-opacity="0.7" filter="url(#b2)"><circle cx="1593.1" cy="709.2" r="3.2"/><circle cx="1582.9" cy="729.0" r="3.2"/><circle cx="1582.9" cy="801.0" r="3.2"/><circle cx="1593.1" cy="820.8" r="3.2"/><circle cx="1872.9" cy="709.2" r="3.2"/><circle cx="1883.1" cy="729.0" r="3.2"/><circle cx="1883.1" cy="801.0" r="3.2"/><circle cx="1872.9" cy="820.8" r="3.2"/></g>
</g>
<rect x="1527.5" y="561.5" width="408" height="408" fill="none" stroke="#fff" stroke-opacity="0.28" stroke-width="3"/>
</g>
<text x="2207" y="551" font-size="62" text-anchor="middle" transform="translate(2207,0) scale(0.945,1) translate(-2207,0)">L=1050</text>
<clipPath id="hc3"><rect x="1990" y="556" width="414" height="410"/></clipPath>
<linearGradient id="ag3" gradientUnits="userSpaceOnUse" x1="2022" y1="0" x2="2372" y2="0"><stop offset="0.000" stop-color="#fff" stop-opacity="0.7"/><stop offset="0.040" stop-color="#fff" stop-opacity="0.664"/><stop offset="0.070" stop-color="#fff" stop-opacity="0.608"/><stop offset="0.100" stop-color="#fff" stop-opacity="0.554"/><stop offset="0.150" stop-color="#fff" stop-opacity="0.465"/><stop offset="0.200" stop-color="#fff" stop-opacity="0.381"/><stop offset="0.250" stop-color="#fff" stop-opacity="0.301"/><stop offset="0.300" stop-color="#fff" stop-opacity="0.225"/><stop offset="0.350" stop-color="#fff" stop-opacity="0.155"/><stop offset="0.400" stop-color="#fff" stop-opacity="0.091"/><stop offset="0.450" stop-color="#fff" stop-opacity="0.037"/><stop offset="0.500" stop-color="#fff" stop-opacity="0.0"/><stop offset="0.550" stop-color="#fff" stop-opacity="0.037"/><stop offset="0.600" stop-color="#fff" stop-opacity="0.091"/><stop offset="0.650" stop-color="#fff" stop-opacity="0.155"/><stop offset="0.700" stop-color="#fff" stop-opacity="0.225"/><stop offset="0.750" stop-color="#fff" stop-opacity="0.301"/><stop offset="0.800" stop-color="#fff" stop-opacity="0.381"/><stop offset="0.850" stop-color="#fff" stop-opacity="0.465"/><stop offset="0.900" stop-color="#fff" stop-opacity="0.554"/><stop offset="0.930" stop-color="#fff" stop-opacity="0.608"/><stop offset="0.960" stop-color="#fff" stop-opacity="0.664"/><stop offset="1.000" stop-color="#fff" stop-opacity="0.7"/></linearGradient>
<linearGradient id="hg3" gradientUnits="userSpaceOnUse" x1="1982" y1="0" x2="2412" y2="0"><stop offset="0.000" stop-color="#fff" stop-opacity="1"/><stop offset="0.175" stop-color="#fff" stop-opacity="0.9"/><stop offset="0.300" stop-color="#fff" stop-opacity="0.5"/><stop offset="0.425" stop-color="#fff" stop-opacity="0.12"/><stop offset="0.500" stop-color="#fff" stop-opacity="0"/><stop offset="0.575" stop-color="#fff" stop-opacity="0.12"/><stop offset="0.700" stop-color="#fff" stop-opacity="0.5"/><stop offset="0.825" stop-color="#fff" stop-opacity="0.9"/><stop offset="1.000" stop-color="#fff" stop-opacity="1"/></linearGradient>
<g clip-path="url(#hc3)"><g filter="url(#jet)">
<rect x="1990" y="556" width="414" height="410" fill="#131313"/>
<ellipse cx="2197" cy="761" rx="191" ry="131" filter="url(#b22)" fill="none" stroke="url(#hg3)" stroke-width="60" stroke-opacity="0.13"/>
<ellipse cx="2197" cy="761" rx="182" ry="128" filter="url(#b8)" fill="none" stroke="url(#hg3)" stroke-width="24" stroke-opacity="0.15"/>
<ellipse cx="2197" cy="761" rx="116" ry="122" fill="#000" fill-opacity="0.30" filter="url(#b14)"/>
<ellipse cx="2197" cy="761" rx="38" ry="162" fill="#000" fill-opacity="0.40" filter="url(#b14)"/>
<g fill="#000" fill-opacity="0.32" filter="url(#b8)"><circle cx="2197" cy="616" r="20"/><circle cx="2197" cy="906" r="20"/></g>
<ellipse cx="2197" cy="761" rx="175" ry="125" filter="url(#b4)" fill="none" stroke="url(#ag3)" stroke-width="11" stroke-opacity="0.30"/>
<ellipse cx="2197" cy="761" rx="175" ry="125" filter="url(#b2)" fill="none" stroke="url(#ag3)" stroke-width="5"/>
<g fill="#fff" fill-opacity="0.7" filter="url(#b2)"><circle cx="2041.1" cy="704.3" r="3.2"/><circle cx="2029.6" cy="724.5" r="3.2"/><circle cx="2029.6" cy="797.5" r="3.2"/><circle cx="2041.1" cy="817.7" r="3.2"/><circle cx="2352.9" cy="704.3" r="3.2"/><circle cx="2364.4" cy="724.5" r="3.2"/><circle cx="2364.4" cy="797.5" r="3.2"/><circle cx="2352.9" cy="817.7" r="3.2"/></g>
</g>
<rect x="1991.5" y="557.5" width="411" height="407" fill="none" stroke="#fff" stroke-opacity="0.28" stroke-width="3"/>
</g>
<text x="1960" y="1084.5" font-size="67" text-anchor="middle">(B)</text>
</g>
</svg></body></html>
